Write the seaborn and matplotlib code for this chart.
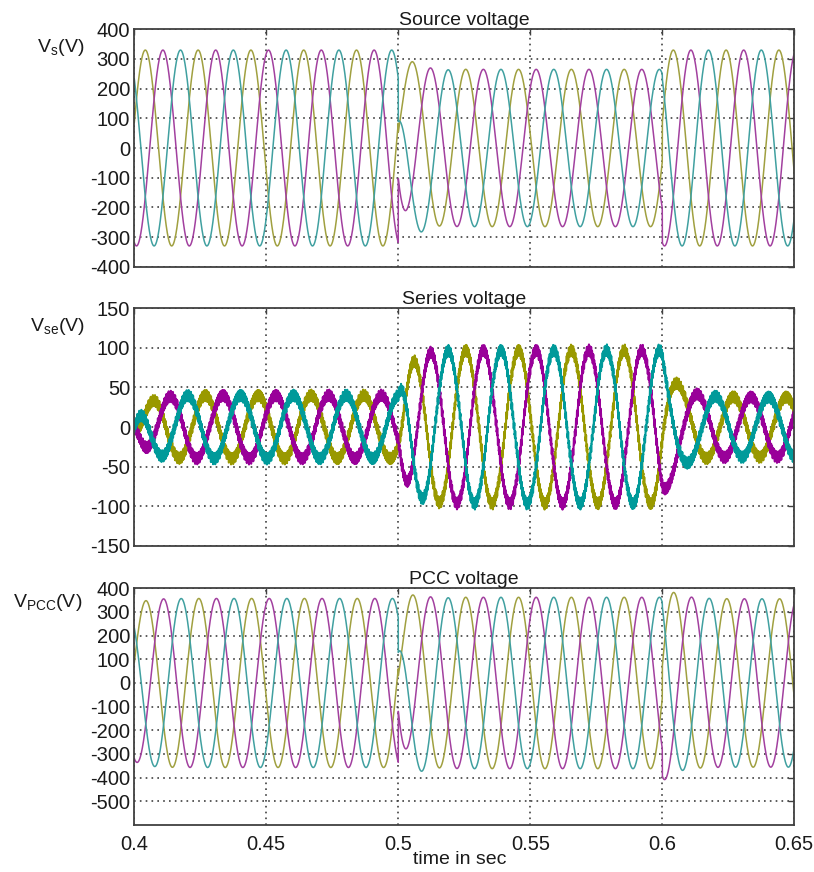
import numpy as np
import pandas as pd
import seaborn as sns
from matplotlib import pyplot as plt

# grid frequency and time window
FREQ = 50.0
T_START, T_END, DT = 0.4, 0.65, 2e-5

# three phases: olive (a), purple (b), teal (c)
PHASE_NAMES = ["a", "b", "c"]
PHASE_SHIFT_DEG = [0, -120, 120]

# segment boundaries: normal, sag, normal
SEG_START = [0.4, 0.5, 0.6]

# source voltage per segment (peak V, phase angle deg)
VS_AMP = [330, 265, 330]
VS_ANGLE = [15, -10, 15]
# switching transient of the source at sag start (a, b, c), decay constant
VS_SAG_OFFSET = [100, 100, -160]
VS_SAG_TAU = 0.004

# series injected voltage per segment (peak V, phase angle deg, settling tau)
VSE_AMP = [40, 97, 38]
VSE_ANGLE = [-35, -10, -35]
VSE_TAU = [0.004, 0.004, 0.005]
# PWM ripple on series voltage (peak V, Hz)
VSE_RIPPLE_AMP = [4.5, 3.0]
VSE_RIPPLE_FREQ = [2450.0, 6130.0]

COLORS_LIGHT = ["#a0a040", "#a2409f", "#40a0a0"]
COLORS_DARK = ["#999900", "#990099", "#009a9a"]

t = np.arange(T_START, T_END + DT / 2, DT)
w = 2 * np.pi * FREQ
seg = np.searchsorted(SEG_START, t, side="right") - 1


def phasor(amp, ang):
    return np.asarray(amp) * np.exp(1j * np.deg2rad(ang))


vs_ph = phasor(VS_AMP, VS_ANGLE)
vse_ph = phasor(VSE_AMP, VSE_ANGLE)

# series voltage phasor settles from previous segment value to the new one
vse_t = np.zeros_like(t, dtype=complex)
for k, t0 in enumerate(SEG_START):
    m = seg == k
    prev = vse_ph[k - 1] if k > 0 else 0
    vse_t[m] = vse_ph[k] + (prev - vse_ph[k]) * np.exp(-(t[m] - t0) / VSE_TAU[k])

rows = []
for i, name in enumerate(PHASE_NAMES):
    rot = np.exp(1j * (w * t + np.deg2rad(PHASE_SHIFT_DEG[i])))
    vs = np.imag(vs_ph[seg] * rot)
    sag = seg == 1
    vs[sag] += VS_SAG_OFFSET[i] * np.exp(-(t[sag] - SEG_START[1]) / VS_SAG_TAU)
    vse_clean = np.imag(vse_t * rot)
    ripple = sum(a * np.sin(2 * np.pi * f * t + i * 2.1 + j)
                 for j, (a, f) in enumerate(zip(VSE_RIPPLE_AMP, VSE_RIPPLE_FREQ)))
    vpcc = vs + vse_clean
    rows.append(pd.DataFrame({"time": t, "phase": name, "vs": vs,
                              "vse": vse_clean + ripple, "vpcc": vpcc}))
data = pd.concat(rows, ignore_index=True)

sns.set_style("white")
plt.rcParams["font.family"] = ["Liberation Sans", "DejaVu Sans"]
plt.rcParams["mathtext.default"] = "regular"
plt.rcParams["axes.unicode_minus"] = False

W, H = 814, 872
fig = plt.figure(figsize=(W / 100, H / 100), dpi=100)
left, width = 134.3 / W, 660 / W
panels = [
    ("vs", "Source voltage", (29.3, 266.7), (-400, 400), np.arange(-400, 401, 100),
     COLORS_LIGHT, 1.1, "V$_{s}$(V)", (37, 48)),
    ("vse", "Series voltage", (308.3, 545.7), (-150, 150), np.arange(-150, 151, 50),
     COLORS_DARK, 1.5, "V$_{se}$(V)", (30, 326)),
    ("vpcc", "PCC voltage", (588.3, 825.0), (-600, 400), np.arange(-500, 401, 100),
     COLORS_LIGHT, 1.1, "V$_{PCC}$(V)", (13, 602)),
]
grid_kw = dict(color="#404040", linestyle=(0, (1, 2.5)), linewidth=1.2)
xticks = [0.4, 0.45, 0.5, 0.55, 0.6, 0.65]

for col, title, (ytop, ybot), ylim, yticks, colors, lw, ylab, (lx, ly) in panels:
    ax = fig.add_axes([left, 1 - ybot / H, width, (ybot - ytop) / H])
    sns.lineplot(data=data, x="time", y=col, hue="phase", hue_order=PHASE_NAMES,
                 palette=colors, estimator=None, sort=False, legend=False,
                 linewidth=lw, ax=ax)
    ax.set_xlim(T_START, T_END)
    ax.set_ylim(*ylim)
    ax.set_yticks(yticks)
    ax.set_xticks(xticks)
    ax.set_xlabel("")
    ax.set_ylabel("")
    ax.grid(True, **grid_kw)
    ax.set_axisbelow(True)
    ax.tick_params(direction="in", length=4, width=1, color="#404040",
                   top=True, right=True, labelsize=14.5, labelcolor="#1a1a1a")
    ax.tick_params(axis="y", pad=3)
    ax.tick_params(axis="x", pad=7)
    if col != "vpcc":
        ax.tick_params(labelbottom=False)
    else:
        ax.set_xticklabels(["0.4", "0.45", "0.5", "0.55", "0.6", "0.65"])
    for s in ax.spines.values():
        s.set_color("#404040")
        s.set_linewidth(1.3)
        s.set_visible(True)
    ax.set_title(title, fontsize=14, pad=3, color="#1a1a1a")
    fig.text(lx / W, 1 - ly / H, ylab, fontsize=14, ha="left", va="center",
             color="#1a1a1a")

fig.text(460 / W, 1 - 859 / H, "time in sec", fontsize=14, ha="center",
         va="center", color="#1a1a1a")

fig.savefig("out.png", dpi=100)
